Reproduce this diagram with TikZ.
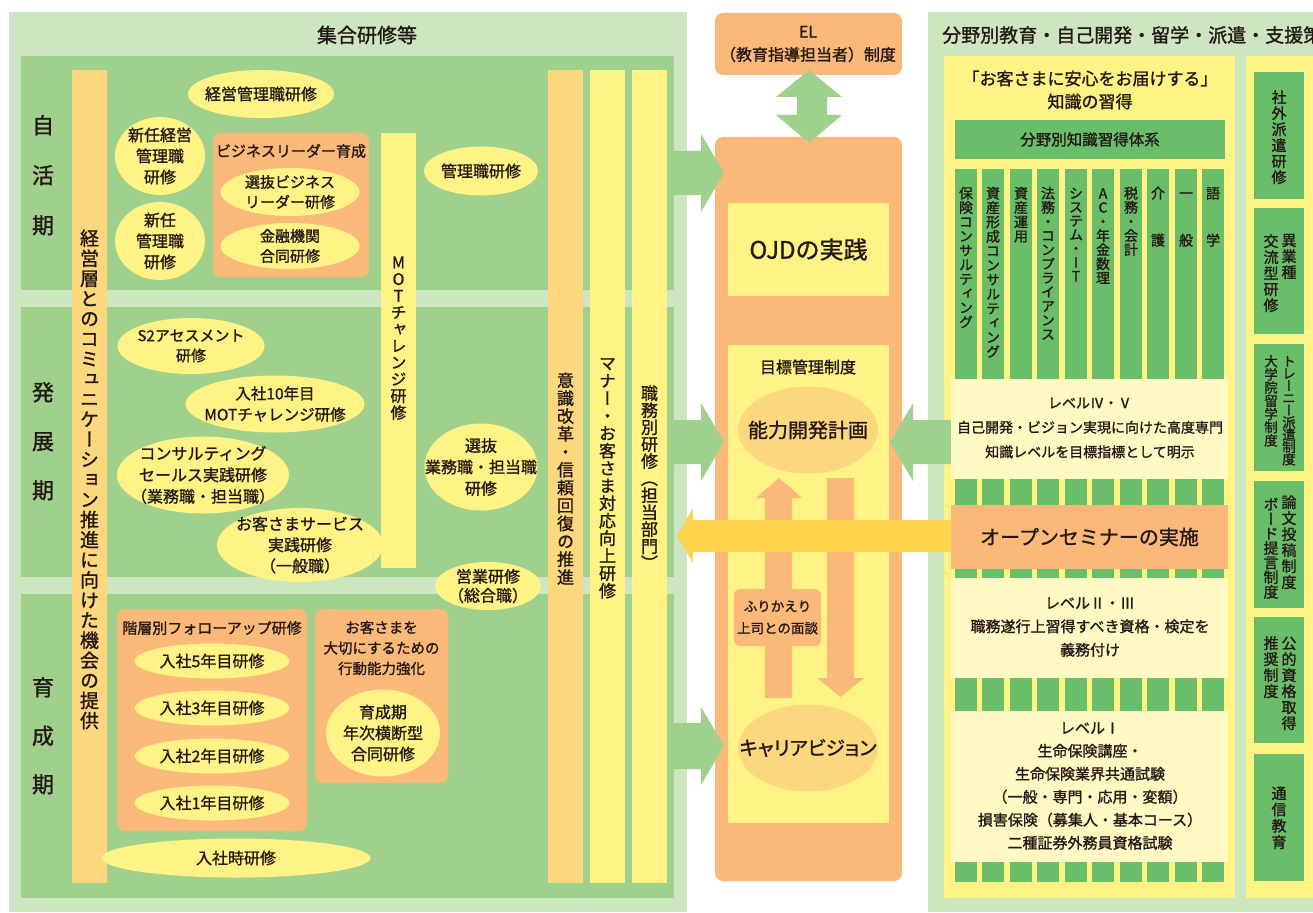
\documentclass[tikz,border=0pt]{standalone}
\usepackage{fontspec}
\setmainfont{Noto Sans CJK JP}[FakeBold=1.2,AutoFakeBold=1.2]
\newfontfamily\vjp{Noto Sans CJK JP}[RawFeature=+vert,FakeBold=1.2,AutoFakeBold=1.2]
\usetikzlibrary{shapes.geometric}
\definecolor{lgreen}{HTML}{CEE5C1}
\definecolor{mgreen}{HTML}{A0D18C}
\definecolor{cgreen}{HTML}{6ABE69}
\definecolor{yel}{HTML}{FFF385}
\definecolor{obar}{HTML}{FDD77E}
\definecolor{orng}{HTML}{FAB978}
\definecolor{cream}{HTML}{FFF9C4}
\definecolor{gold}{HTML}{FED44C}
\definecolor{ink}{HTML}{231815}
\newdimen\vtstep
\newcommand\vt[2]{\vtstep=#1\relax\vbox{\offinterlineskip\vtloop#2\relax}}
\def\vtloop#1{\ifx#1\relax\else\hbox to 1.2em{\hss\vrule height \dimexpr.38em+.5\vtstep\relax depth \dimexpr.5\vtstep-.38em\relax width 0pt\smash{#1}\hss}\expandafter\vtloop\fi}
\tikzset{
  box/.style={inner sep=0pt,outer sep=0pt,draw=none},
  ell/.style={ellipse,inner sep=0pt,outer sep=0pt,fill=yel},
  txt/.style={inner sep=0pt,align=center,text=ink},
  vtxt/.style={inner sep=0pt,text=ink},
}
\newcommand\bx[6][]{\node[box,#1,minimum width={(#4-#2)*1pt},minimum height={(#5-#3)*1pt},anchor=north west] (#6) at (#2,#3) {};}
\newcommand\vnode[6]{\node[vtxt,anchor=north,font=\vjp\fontsize{#4}{#4}\selectfont] (#1) at (#2,{#3-#5/2}) {\vt{#5pt}{#6}};}
\newcommand\elnode[8]{\node[ell,minimum width=#4pt,minimum height=#5pt] (#1) at (#2,#3) {};\node[txt,font=\fontsize{#6}{#7}\selectfont] (#1-t) at (#1.center) {#8};}
\begin{document}
\begin{tikzpicture}[x=1pt,y=-1pt]
\useasboundingbox[fill=white] (0,0) rectangle (1313,912);
% ================= left panel =================
\bx[fill=lgreen]{9}{12}{687}{912}{Lpanel}
\node[txt,font=\fontsize{20}{20}\selectfont] (Ltitle) at (367,35) {集合研修等};
\bx[fill=mgreen]{21}{56}{674}{290}{bandA}
\bx[fill=mgreen]{21}{307}{674}{577}{bandB}
\bx[fill=mgreen]{21}{594}{674}{898}{bandC}
\vnode{pA}{43}{125}{22}{50}{自活期}
\vnode{pB}{43}{392}{22}{49}{発展期}
\vnode{pC}{43}{687}{22}{48.5}{育成期}
% bars
\bx[fill=obar]{72}{70}{107}{883}{barComm}
\bx[fill=yel]{381}{133}{416}{568}{barMOT}
\bx[fill=obar]{548}{70}{583}{883}{barIshiki}
\bx[fill=yel]{590}{70}{625}{883}{barManner}
\bx[fill=yel]{632}{70}{667}{883}{barShokumu}
\vnode{tComm}{89.5}{238}{19}{20.1}{経営層とのコミュニケーション推進に向けた機会の提供}
\vnode{tMOT}{398.5}{262}{16}{16.7}{MOTチャレンジ研修}
\vnode{tIshiki}{565.5}{380}{17}{17.9}{意識改革・信頼回復の推進}
\vnode{tManner}{607.5}{363}{17}{17.5}{マナー・お客さま対応向上研修}
\vnode{tShokumu}{649.5}{393}{17}{17}{職務別研修（担当部門）}
% jikatsu
\elnode{eKeiei}{261}{94}{146}{48}{16}{20}{経営管理職研修}
\elnode{eShinKeiei}{160}{156}{90}{78}{16}{21}{新任経営\\管理職\\研修}
\elnode{eShin}{160}{241}{90}{78}{16}{21}{新任\\管理職\\研修}
\bx[fill=orng,rounded corners=8pt]{213}{133}{369}{277}{bBiz}
\node[txt,font=\fontsize{15}{15}\selectfont] (bBiz-t) at (291,151) {ビジネスリーダー育成};
\elnode{eSenBiz}{290}{192}{139}{48}{15}{20}{選抜ビジネス\\リーダー研修}
\elnode{eKinyu}{290}{246}{139}{46}{15}{20}{金融機関\\合同研修}
\elnode{eKanri}{481}{171}{114}{49}{16}{20}{管理職研修}
% hatten
\elnode{eS2}{191}{346}{147}{56}{15}{20}{S2アセスメント\\研修}
\elnode{eMot10}{275}{404}{179}{57}{15.5}{21}{入社10年目\\MOTチャレンジ研修}
\elnode{eConsul}{203}{475}{172}{77}{16}{21.5}{コンサルティング\\セールス実践研修\\（業務職・担当職）}
\elnode{eOkyaku}{300}{545}{166}{74}{16}{21}{お客さまサービス\\実践研修\\（一般職）}
\elnode{eSenGyo}{481}{467}{113}{87}{16}{21.5}{選抜\\業務職・担当職\\研修}
\elnode{eEigyo}{488}{586}{106}{48}{16}{19}{営業研修\\（総合職）}
% ikusei
\bx[fill=orng,rounded corners=8pt]{117}{609}{307}{831}{bKaiso}
\node[txt,font=\fontsize{15}{15}\selectfont] (bKaiso-t) at (212,628) {階層別フォローアップ研修};
\elnode{e5}{212}{661}{155}{35}{16}{16}{入社5年目研修}
\elnode{e3}{212}{708}{155}{35}{16}{16}{入社3年目研修}
\elnode{e2}{212}{756}{155}{35}{16}{16}{入社2年目研修}
\elnode{e1}{212}{803}{155}{35}{16}{16}{入社1年目研修}
\bx[fill=orng,rounded corners=8pt]{315}{609}{448}{783}{bKodo}
\node[txt,font=\fontsize{14.5}{20.5}\selectfont] (bKodo-t) at (381.5,648) {お客さまを\\大切にするための\\行動能力強化};
\elnode{eIkusei}{383}{733}{114}{87}{16}{21}{育成期\\年次横断型\\合同研修}
\elnode{eNyusha}{236}{858}{269}{39}{16}{16}{入社時研修}
% ================= middle =================
\bx[fill=orng,rounded corners=8pt]{715}{13}{902}{75}{bEL}
\node[txt,font=\fontsize{16}{23}\selectfont] (bEL-t) at (808,44) {EL\\（教育指導担当者）制度};
\bx[fill=orng,rounded corners=8pt]{715}{137}{902}{881}{col}
\fill[mgreen] (809,70) -- (842,97) -- (827,97) -- (827,115) -- (842,115) -- (809,143) -- (776,115) -- (797,115) -- (797,97) -- (776,97) -- cycle;
\bx[fill=yel]{728}{203}{889}{296}{bOJD}
\node[txt,font=\fontsize{24}{24}\selectfont] (bOJD-t) at (bOJD.center) {OJDの実践};
\bx[fill=yel]{728}{345}{889}{823}{bMokuhyo}
\node[txt,font=\fontsize{16}{16}\selectfont] (bMokuhyo-t) at (808,367) {目標管理制度};
\node[ell,fill=obar,minimum width=140pt,minimum height=87pt] (eNoryoku) at (808,430) {};
\node[txt,font=\fontsize{20}{20}\selectfont] (eNoryoku-t) at (eNoryoku.center) {能力開発計画};
\node[ell,fill=obar,minimum width=140pt,minimum height=87pt] (eCareer) at (808,748) {};
\node[txt,font=\fontsize{19.5}{19.5}\selectfont\addfontfeature{RawFeature=+palt}] (eCareer-t) at (eCareer.center) {キャリアビジョン};
\fill[orng] (779,478) -- (802,498) -- (792,498) -- (792,698) -- (765,698) -- (765,498) -- (756,498) -- cycle;
\fill[orng] (827,478) -- (854,478) -- (854,678) -- (864,678) -- (840.5,697) -- (817,678) -- (827,678) -- cycle;
\bx[fill=orng,rounded corners=6pt]{734}{589}{821}{646}{bFuri}
\node[txt,font=\fontsize{13.5}{22}\selectfont] (bFuri-t) at (bFuri.center) {ふりかえり\\上司との面談};
% green arrows into column
\fill[mgreen] (674,151) -- (701,151) -- (701,134) -- (724,173) -- (701,212) -- (701,195) -- (674,195) -- cycle;
\fill[mgreen] (674,420) -- (701,420) -- (701,403) -- (724,442) -- (701,481) -- (701,464) -- (674,464) -- cycle;
\fill[mgreen] (674,723) -- (701,723) -- (701,707) -- (724,746) -- (701,785) -- (701,769) -- (674,769) -- cycle;
% ================= right panel =================
\bx[fill=lgreen]{928}{12}{1313}{912}{Rpanel}
\node[txt,anchor=west,font=\fontsize{19}{19}\selectfont] (Rtitle) at (942,35) {分野別教育・自己開発・留学・派遣・支援策};
\bx[fill=yel]{944}{56}{1235}{898}{Y1}
\bx[fill=yel]{1246}{56}{1313}{898}{Y2}
\fill[mgreen] (890,442) -- (913,403) -- (913,420) -- (951,420) -- (951,464) -- (913,464) -- (913,481) -- cycle;
\fill[gold] (677,536) -- (693,508) -- (693,520) -- (951,520) -- (951,552) -- (693,552) -- (693,563) -- cycle;
\node[txt,font=\fontsize{17}{23}\selectfont] (Y1-t) at (1090,90) {「お客さまに安心をお届けする」\\知識の習得};
\bx[fill=cgreen]{955}{120}{1225}{159}{bTaikei}
\node[txt,font=\fontsize{15.5}{15.5}\selectfont] (bTaikei-t) at (bTaikei.center) {分野別知識習得体系};
\foreach \i/\x in {1/955,2/982,3/1010,4/1037,5/1065,6/1092,7/1120,8/1147,9/1175,10/1202}{\bx[fill=cgreen]{\x}{169}{\x+22}{882}{col\i}}
\vnode{c1}{966}{193}{14}{14.3}{保険コンサルティング}
\vnode{c2}{993}{193}{14}{14.4}{資産形成コンサルティング}
\vnode{c3}{1021}{193}{14}{14.3}{資産運用}
\vnode{c4}{1048}{193}{14}{14.1}{法務・コンプライアンス}
\vnode{c5}{1076}{193}{14}{13.8}{システム・IT}
\vnode{c6}{1103}{193}{14}{14.1}{AC・年金数理}
\vnode{c7}{1131}{193}{14}{14.1}{税務・会計}
\vnode{c8}{1158}{193}{14}{47}{介護}
\vnode{c9}{1186}{193}{14}{47}{一般}
\vnode{c10}{1213}{193}{14}{47}{語学}
\bx[fill=cream]{951}{379}{1228}{479}{bLv45}
\node[txt,font=\fontsize{14}{24.5}\selectfont] (bLv45-t) at (1090,428) {レベルⅣ・Ⅴ\\自己開発・ビジョン実現に向けた高度専門\\知識レベルを目標指標として明示};
\bx[fill=orng]{951}{505}{1228}{569}{bSeminar}
\node[txt,font=\fontsize{20}{20}\selectfont] (bSeminar-t) at (bSeminar.center) {オープンセミナーの実施};
\bx[fill=cream]{951}{578}{1228}{678}{bLv23}
\node[txt,font=\fontsize{15}{23.5}\selectfont] (bLv23-t) at (1090,627) {レベルⅡ・Ⅲ\\職務遂行上習得すべき資格・検定を\\義務付け};
\bx[fill=cream]{951}{711}{1228}{862}{bLv1}
\node[txt,font=\fontsize{15}{23}\selectfont] (bLv1-t) at (1090,786) {レベルⅠ\\生命保険講座・\\生命保険業界共通試験\\（一般・専門・応用・変額）\\損害保険（募集人・基本コース）\\二種証券外務員資格試験};
% right column boxes
\bx[fill=cgreen]{1254}{72}{1304}{199}{r1}
\bx[fill=cgreen]{1254}{208}{1304}{334}{r2}
\bx[fill=cgreen]{1254}{344}{1304}{471}{r3}
\bx[fill=cgreen]{1254}{481}{1304}{608}{r4}
\bx[fill=cgreen]{1254}{617}{1304}{743}{r5}
\bx[fill=cgreen]{1254}{754}{1304}{881}{r6}
\vnode{r1t}{1279}{97}{15}{16}{社外派遣研修}
\vnode{r2a}{1289}{240}{15}{16}{異業種}
\vnode{r2b}{1271}{241}{15}{16}{交流型研修}
\vnode{r3a}{1289}{361}{13.5}{12.25}{トレーニー派遣制度}
\vnode{r3b}{1271}{361}{13.5}{13.2}{大学院留学制度}
\vnode{r4a}{1289}{502}{15}{16}{論文投稿制度}
\vnode{r4b}{1271}{504}{15}{14.6}{ボード提言制度}
\vnode{r5a}{1289}{643}{15}{16}{公的資格取得}
\vnode{r5b}{1271}{643}{15}{16}{推奨制度}
\vnode{r6t}{1279}{793}{15}{16.3}{通信教育}
\end{tikzpicture}
\end{document}
